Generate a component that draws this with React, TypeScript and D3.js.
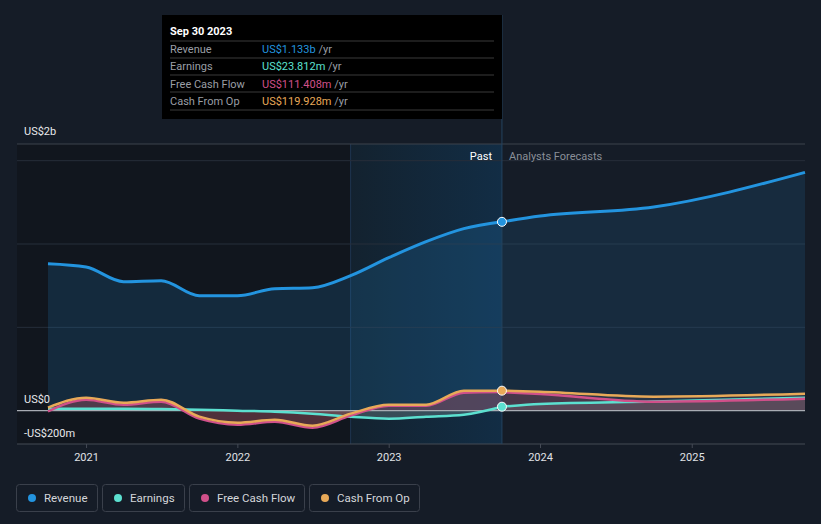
import React from "react";
import * as d3 from "d3";

// values in US$ billions, quarter ends
const pastDates = [
  "2020-09-30", "2020-12-31", "2021-03-31", "2021-06-30", "2021-09-30",
  "2021-12-31", "2022-03-31", "2022-06-30", "2022-09-30", "2022-12-31",
  "2023-03-31", "2023-06-30", "2023-09-30",
];
const revenue = [0.882, 0.862, 0.774, 0.78, 0.69, 0.69, 0.732, 0.738, 0.81, 0.918, 1.014, 1.092, 1.133];
const earnings = [0.012, 0.012, 0.012, 0.01, 0.006, 0.0, -0.006, -0.018, -0.036, -0.048, -0.036, -0.024, 0.0238];
const freeCashFlow = [-0.004, 0.066, 0.036, 0.054, -0.048, -0.084, -0.066, -0.102, -0.03, 0.03, 0.03, 0.108, 0.1114];
const cashFromOp = [0.018, 0.078, 0.048, 0.066, -0.036, -0.072, -0.054, -0.09, -0.018, 0.036, 0.036, 0.12, 0.1199];

const forecastDates = ["2023-09-30", "2023-12-31", "2024-09-30", "2025-09-30"];
const revenueFc = [1.133, 1.168, 1.222, 1.43];
const earningsFc = [0.0238, 0.04, 0.055, 0.078];
const freeCashFlowFc = [0.1114, 0.1, 0.054, 0.072];
const cashFromOpFc = [0.1199, 0.114, 0.084, 0.102];

const yearTicks = ["2021", "2022", "2023", "2024", "2025"];
const gridValues = [0.5, 1.0, 1.5];

const tooltipRows = [
  { label: "Revenue", value: "US$1.133b", color: "#2394df" },
  { label: "Earnings", value: "US$23.812m", color: "#5ce0d0" },
  { label: "Free Cash Flow", value: "US$111.408m", color: "#d0508a" },
  { label: "Cash From Op", value: "US$119.928m", color: "#e8a958" },
];

const legendItems = [
  { label: "Revenue", color: "#2394df" },
  { label: "Earnings", color: "#5ce0d0" },
  { label: "Free Cash Flow", color: "#d0508a" },
  { label: "Cash From Op", color: "#e8a958" },
];

const W = 821;
const H = 524;
const parse = d3.timeParse("%Y-%m-%d");

type Pt = { d: Date; v: number };
const zip = (dates: string[], vals: number[]): Pt[] =>
  dates.map((s, i) => ({ d: parse(s)!, v: vals[i] }));

export default function App() {
  const x = d3
    .scaleTime()
    .domain([parse("2020-09-30")!, parse("2025-09-30")!])
    .range([48, 805]);
  const y = d3.scaleLinear().domain([-0.2, 1.6]).range([444, 144]);

  const line = d3
    .line<Pt>()
    .x((p) => x(p.d))
    .y((p) => y(p.v))
    .curve(d3.curveMonotoneX);
  const area = d3
    .area<Pt>()
    .x((p) => x(p.d))
    .y0(y(0))
    .y1((p) => y(p.v))
    .curve(d3.curveMonotoneX);

  const series = [
    { past: revenue, fc: revenueFc, color: "#2394df", fill: "#2394df", op: 0.16, w: 3 },
    { past: earnings, fc: earningsFc, color: "#5ce0d0", fill: "#8aa8a8", op: 0.3, w: 2.5 },
    { past: freeCashFlow, fc: freeCashFlowFc, color: "#d0508a", fill: "#b04050", op: 0.3, w: 2.5 },
    { past: cashFromOp, fc: cashFromOpFc, color: "#e8a958", fill: "#8a6a78", op: 0.2, w: 2.5 },
  ];

  const xPastStart = x(parse("2022-09-30")!);
  const xNow = x(parse("2023-09-30")!);
  const font = "Roboto, 'Noto Sans', sans-serif";

  const legendX = [16, 102, 189, 309];
  const legendW = [81, 82, 115, 110];

  return (
    <div style={{ position: "absolute", left: 0, top: 0 }}>
      <svg width={W} height={H} style={{ display: "block", fontFamily: font }}>
        <defs>
          <linearGradient id="pastGrad" x1="0" x2="1" y1="0" y2="0">
            <stop offset="0" stopColor="#13222f" />
            <stop offset="1" stopColor="#122d45" />
          </linearGradient>
        </defs>
        <rect width={W} height={H} fill="#151c27" />
        <rect x={17} y={144} width={xPastStart - 17} height={300} fill="#11161e" />
        <rect x={xPastStart} y={144} width={xNow - xPastStart} height={300} fill="url(#pastGrad)" />
        <line x1={xPastStart} x2={xPastStart} y1={144} y2={444} stroke="#1e3550" />

        {/* grid */}
        <line x1={17} x2={805} y1={144} y2={144} stroke="#3c424d" />
        {gridValues.map((g) => (
          <line key={g} x1={17} x2={805} y1={y(g)} y2={y(g)} stroke="#262e3a" />
        ))}

        {/* areas */}
        {series.map((s, i) => (
          <g key={"a" + i}>
            <path d={area(zip(pastDates, s.past))!} fill={s.fill} opacity={s.op} />
            <path d={area(zip(forecastDates, s.fc))!} fill={s.fill} opacity={s.op * 0.8} />
          </g>
        ))}

        <line x1={17} x2={805} y1={y(0)} y2={y(0)} stroke="#a8acb3" strokeWidth={1.2} />
        <line x1={17} x2={805} y1={444} y2={444} stroke="#444a55" />

        {/* lines, drawn back to front */}
        {[1, 2, 3, 0].map((i) => {
          const s = series[i];
          return (
            <g key={"l" + i}>
              <path d={line(zip(pastDates, s.past))!} fill="none" stroke={s.color} strokeWidth={s.w} />
              <path d={line(zip(forecastDates, s.fc))!} fill="none" stroke={s.color} strokeWidth={s.w} />
            </g>
          );
        })}

        <line x1={xNow} x2={xNow} y1={15} y2={444} stroke="#24435f" />

        {[0, 1, 3].map((i) => (
          <circle
            key={"c" + i}
            cx={xNow}
            cy={y(series[i].past[series[i].past.length - 1])}
            r={4.5}
            fill={series[i].color}
            stroke="#ffffff"
            strokeWidth={1}
          />
        ))}

        {/* x axis */}
        {yearTicks.map((t) => {
          const xx = x(parse(t + "-01-01")!);
          return (
            <g key={t}>
              <line x1={xx} x2={xx} y1={444} y2={448} stroke="#444a55" />
              <text x={xx} y={461} textAnchor="middle" fill="#e0e2e6" fontSize={11}>
                {t}
              </text>
            </g>
          );
        })}

        {/* y labels */}
        <text x={24} y={135} fill="#e8e9ec" fontSize={11}>US$2b</text>
        <text x={24} y={403} fill="#e8e9ec" fontSize={11}>US$0</text>
        <text x={24} y={437} fill="#e8e9ec" fontSize={11}>-US$200m</text>

        <text x={492} y={160} textAnchor="end" fill="#ffffff" fontSize={11}>Past</text>
        <text x={509} y={160} fill="#8a8f98" fontSize={11}>Analysts Forecasts</text>

        {/* tooltip */}
        <rect x={162} y={15} width={340} height={104} fill="#000000" />
        <text x={170} y={35} fill="#ffffff" fontSize={11} fontWeight="bold">Sep 30 2023</text>
        {[41, 58, 75, 92, 110].map((yy) => (
          <line key={yy} x1={170} x2={494} y1={yy} y2={yy} stroke="#3a3a3a" />
        ))}
        {tooltipRows.map((r, i) => (
          <g key={r.label}>
            <text x={170} y={53 + i * 17.3} fill="#9a9ea5" fontSize={11}>{r.label}</text>
            <text x={262} y={53 + i * 17.3} fontSize={11}>
              <tspan fill={r.color}>{r.value}</tspan>
              <tspan fill="#9a9ea5"> /yr</tspan>
            </text>
          </g>
        ))}

        {/* legend */}
        {legendItems.map((l, i) => (
          <g key={l.label}>
            <rect x={legendX[i] + 0.5} y={484.5} width={legendW[i]} height={27} rx={3} fill="none" stroke="#3a404b" />
            <circle cx={legendX[i] + 16} cy={498} r={4} fill={l.color} />
            <text x={legendX[i] + 28} y={502} fill="#d4d6da" fontSize={11.5}>{l.label}</text>
          </g>
        ))}
      </svg>
    </div>
  );
}
